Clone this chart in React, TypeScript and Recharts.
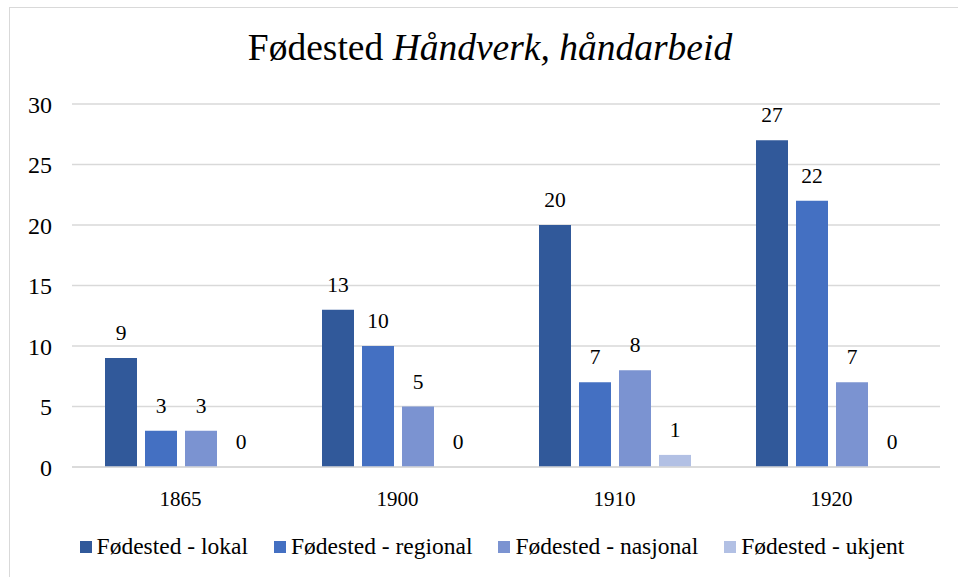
import React from 'react';
import { BarChart, Bar, XAxis, YAxis, CartesianGrid, LabelList, Legend } from 'recharts';

const years = ['1865', '1900', '1910', '1920'];
const lokal = [9, 13, 20, 27];
const regional = [3, 10, 7, 22];
const nasjonal = [3, 5, 8, 7];
const ukjent = [0, 0, 1, 0];
const yTicks = [0, 5, 10, 15, 20, 25, 30];

const seriesNames = ['Fødested - lokal', 'Fødested - regional', 'Fødested - nasjonal', 'Fødested - ukjent'];
const seriesKeys = ['lokal', 'regional', 'nasjonal', 'ukjent'];
const seriesColors = ['#31599A', '#4470C2', '#7B93D1', '#B2C0E4'];

const data = years.map((y, i) => ({
  year: y,
  lokal: lokal[i],
  regional: regional[i],
  nasjonal: nasjonal[i],
  ukjent: ukjent[i],
}));

const FONT = "'Liberation Serif', 'Times New Roman', Times, 'DejaVu Serif', serif";

const renderLegend = () => (
  <div
    style={{
      display: 'flex',
      justifyContent: 'center',
      alignItems: 'center',
      gap: 26,
      fontFamily: FONT,
      fontSize: 23.5,
      lineHeight: '27px',
      height: 27,
      color: '#000',
      whiteSpace: 'nowrap',
    }}
  >
    {seriesNames.map((n, i) => (
      <div key={n} style={{ display: 'flex', alignItems: 'center' }}>
        <span style={{ display: 'inline-block', width: 12, height: 12, background: seriesColors[i], marginRight: 5 }} />
        <span>{n}</span>
      </div>
    ))}
  </div>
);

const renderValueLabel = (props: any) => {
  const { x, y, width, height, value } = props;
  if (value === undefined || value === null) return null;
  const top = Number(y) + Math.min(0, Number(height) || 0);
  return (
    <text
      x={Number(x) + Number(width) / 2}
      y={top - 18}
      textAnchor="middle"
      fontFamily={FONT}
      fontSize={21.5}
      fill="#000"
    >
      {value}
    </text>
  );
};

export default function App() {
  return (
    <div style={{ position: 'absolute', left: 0, top: 0, width: 958, height: 577, overflow: 'hidden', background: '#fff', fontFamily: FONT }}>
      <div
        style={{
          position: 'absolute',
          left: 9,
          top: 7,
          width: 980,
          height: 600,
          border: '1.5px solid #d9d9d9',
          boxSizing: 'border-box',
        }}
      />
      <div
        style={{
          position: 'absolute',
          left: 0,
          top: 27,
          width: 980,
          textAlign: 'center',
          fontFamily: FONT,
          fontSize: 37.5,
          lineHeight: '42px',
          color: '#000',
          whiteSpace: 'nowrap',
        }}
      >
        Fødested <i>Håndverk, håndarbeid</i>
      </div>
      <div style={{ position: 'absolute', left: 0, top: 0 }}>
        <BarChart
          width={958}
          height={577}
          data={data}
          margin={{ top: 104, right: 18, left: 0, bottom: 43 }}
          barSize={32}
          barGap={8}
          style={{ fontFamily: FONT }}
        >
          <CartesianGrid vertical={false} stroke="#d9d9d9" strokeWidth={1.5} />
          <XAxis
            dataKey="year"
            axisLine={{ stroke: '#d9d9d9', strokeWidth: 1.5 }}
            tickLine={false}
            tickSize={0}
            tickMargin={24}
            height={40}
            tick={{ fontFamily: FONT, fontSize: 21, fill: '#000' }}
          />
          <YAxis
            domain={[0, 30]}
            ticks={yTicks}
            interval={0}
            axisLine={false}
            tickLine={false}
            tickSize={0}
            tickMargin={20}
            width={72}
            tick={{ fontFamily: FONT, fontSize: 24, fill: '#000' }}
          />
          <Legend
            verticalAlign="bottom"
            content={renderLegend}
            wrapperStyle={{ position: 'absolute', top: 533, left: 13, width: 958, bottom: 'auto' }}
          />
          {seriesKeys.map((k, i) => (
            <Bar
              key={k}
              dataKey={k}
              name={seriesNames[i]}
              fill={seriesColors[i]}
              minPointSize={0.01}
              isAnimationActive={false}
            >
              <LabelList dataKey={k} content={renderValueLabel} />
            </Bar>
          ))}
        </BarChart>
      </div>
    </div>
  );
}
